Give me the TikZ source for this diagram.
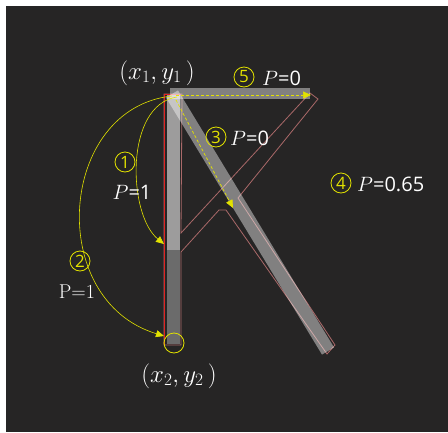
\documentclass[tikz,border=0pt]{standalone}
\usepackage{fontspec}
\setsansfont{Open Sans}
\usetikzlibrary{arrows.meta}
\definecolor{bg}{RGB}{38,37,37}
\definecolor{yel}{RGB}{226,226,0}
\definecolor{pinkl}{RGB}{170,105,105}
\definecolor{redl}{RGB}{225,35,35}
\tikzset{
  lbl/.style={text=white, font=\fontsize{20}{22}\selectfont, inner sep=0pt, anchor=center},
  coordlbl/.style={text=white, font=\fontsize{24}{26}\selectfont, inner sep=0pt},
  num/.style={circle, draw=yel, line width=0.8pt, text=yel, minimum size=20pt, inner sep=0pt, font=\sffamily\fontsize{17}{18}\selectfont},
  yarc/.style={draw=yel, line width=0.6pt, -{Triangle[length=8pt,width=7pt]}},
  ydash/.style={draw=yel, line width=0.7pt, dash pattern=on 3pt off 2pt, -{Triangle[length=8pt,width=7pt]}},
  outline/.style={draw=pinkl, line width=0.8pt}
}
\begin{document}
\begin{tikzpicture}[x=1pt,y=-1pt]
\useasboundingbox (0,0) rectangle (448,432);
\fill[white] (0,0) rectangle (448,432);
\fill[bg] (6,6) rectangle (448,432);

% pink candidate outline (4)
\draw[outline] (164,94) -- (182,94) -- (181,233) -- (310,93) -- (318,99) -- (238,198)
  -- (335,345) -- (327,354) -- (226,210) -- (219,210) -- (181,252) -- (181,345) -- (164,345) -- cycle;
\draw[redl, line width=1pt] (164,94) -- (164,345);
\draw[redl, line width=1pt] (164,94) -- (181,94);

% vertical bar
\fill[white, opacity=0.55] (167,95) rectangle (180,250);
\fill[white, opacity=0.32] (167,250) rectangle (180,344);
% horizontal bar
\fill[white, opacity=0.42] (170,88) rectangle (310,99);
% diagonal bar
\draw[white, opacity=0.42, line width=14pt] (172,94) -- (328,351);

% coordinates
\coordinate (a1s) at (177,97);
\coordinate (a1e) at (164,244);
\coordinate (a2s) at (172,96);
\coordinate (a2e) at (164,336);
\coordinate (h5s) at (176,95);
\coordinate (h5e) at (311,95);
\coordinate (d3s) at (176,100);
\coordinate (d3e) at (233,208);

% yellow marker at end point
\node[circle, draw=yel, line width=0.8pt, minimum size=20pt, inner sep=0pt] (endc) at (174,343) {};

% arcs
\draw[yarc] (a1s) .. controls (124,105) and (128,215) .. (a1e);
\draw[yarc] (a2s) .. controls (58,108) and (45,300) .. (a2e);
% dashed arrows
\draw[ydash] (h5s) -- (h5e);
\draw[ydash] (d3s) -- (d3e);

% labels
\node[coordlbl] (c1) at (157,73) {$(x_1,y_1\,)$};
\node[coordlbl] (c2) at (179,376) {$(x_2,y_2\,)$};

\node[num] (n5) at (244,77) {5};
\node[lbl, anchor=west] (l5) at (262,78) {$P$\sffamily =0};
\node[num] (n3) at (216,137) {3};
\node[lbl, anchor=west] (l3) at (230,138) {$P$\sffamily =0};
\node[num] (n1) at (125,162) {1};
\node[lbl] (l1) at (132,192) {$P$\sffamily =1};
\node[num] (n2) at (80,261) {2};
\node[lbl] (l2) at (77,292) {\rmfamily P=1};
\node[num] (n4) at (341,183) {4};
\node[lbl, anchor=west] (l4) at (357,184) {$P$\sffamily =0.65};
\end{tikzpicture}
\end{document}
